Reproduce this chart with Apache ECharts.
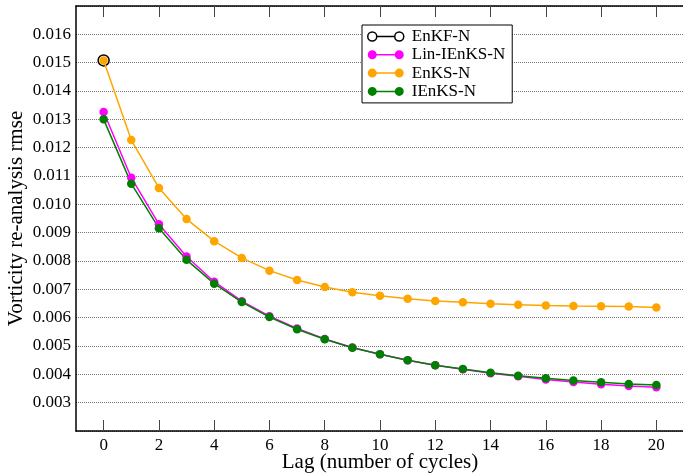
<!DOCTYPE html>
<html>
<head>
<meta charset="utf-8">
<script src="https://cdn.jsdelivr.net/npm/echarts@6/dist/echarts.min.js"></script>
<style>
  html, body { margin: 0; padding: 0; background: #fff; }
  #chart { width: 683px; height: 473px; }
</style>
</head>
<body>
<div id="chart"></div>
<script>
// ---- data ----
const lags = [0,1,2,3,4,5,6,7,8,9,10,11,12,13,14,15,16,17,18,19,20];
const enkfN = [0.01508];            // only at lag 0
const linIEnKSN = [0.01326,0.01094,0.00930,0.00816,0.00727,0.00658,0.00605,0.00562,0.00525,0.00495,0.00471,0.00450,0.00432,0.00418,0.00404,0.00393,0.00382,0.00373,0.00365,0.00359,0.00354];
const enKSN = [0.01508,0.01227,0.01058,0.00948,0.00870,0.00811,0.00766,0.00733,0.00708,0.00690,0.00677,0.00667,0.00659,0.00654,0.00649,0.00646,0.00643,0.00641,0.00640,0.00639,0.00636];
const iEnKSN = [0.01300,0.01073,0.00916,0.00804,0.00720,0.00655,0.00602,0.00559,0.00524,0.00494,0.00471,0.00450,0.00432,0.00419,0.00406,0.00395,0.00386,0.00378,0.00372,0.00366,0.00362];
const xTicks = [0,2,4,6,8,10,12,14,16,18,20];
const yTicks = [0.003,0.004,0.005,0.006,0.007,0.008,0.009,0.010,0.011,0.012,0.013,0.014,0.015,0.016];
const seriesNames = ['EnKF-N','Lin-IEnKS-N','EnKS-N','IEnKS-N'];

const pairs = arr => arr.map((v, i) => [lags[i], v]);
const FONT = 'Liberation Serif';

const iconFilled = 'path://M0,4.5A4.5,4.5,0,1,1,9,4.5A4.5,4.5,0,1,1,0,4.5Z M27,4.5A4.5,4.5,0,1,1,36,4.5A4.5,4.5,0,1,1,27,4.5Z M4.5,3.75L31.5,3.75L31.5,5.25L4.5,5.25Z';
const iconOpen = 'path://M0,4.5A4.5,4.5,0,1,1,9,4.5A4.5,4.5,0,1,1,0,4.5Z M27,4.5A4.5,4.5,0,1,1,36,4.5A4.5,4.5,0,1,1,27,4.5Z M9,4.5L27,4.5';

const chart = echarts.init(document.getElementById('chart'), null, {renderer: 'canvas'});

function lineSeries(name, data, color) {
  return {
    name, type: 'line', data: pairs(data),
    symbol: 'circle', symbolSize: 8.5,
    lineStyle: {color, width: 1.5},
    itemStyle: {color},
    animation: false
  };
}

chart.setOption({
  animation: false,
  backgroundColor: '#fff',
  grid: {left: 76, top: 6, width: 608, height: 425, containLabel: false, outerBoundsMode: 'none'},
  legend: {
    orient: 'vertical', left: 362, top: 25,
    padding: [3, 7, 3, 5], itemGap: 1.3,
    itemWidth: 36, itemHeight: 9,
    borderColor: '#000', borderWidth: 1, borderRadius: 0,
    backgroundColor: '#fff',
    textStyle: {fontFamily: FONT, fontSize: 17, color: '#000', padding: [0, 0, 0, 3]},
    data: [
      {name: seriesNames[0], icon: iconOpen, itemStyle: {color: 'rgba(0,0,0,0)', borderColor: '#000', borderWidth: 1.5}},
      {name: seriesNames[1], icon: iconFilled, itemStyle: {color: '#ff00ff', borderWidth: 0}},
      {name: seriesNames[2], icon: iconFilled, itemStyle: {color: '#ffa500', borderWidth: 0}},
      {name: seriesNames[3], icon: iconFilled, itemStyle: {color: '#008000', borderWidth: 0}}
    ]
  },
  xAxis: [{
    type: 'value', position: 'bottom', min: -1, max: 21,
    name: 'Lag (number of cycles)', nameLocation: 'middle', nameGap: 21, nameMoveOverlap: false,
    nameTextStyle: {fontFamily: FONT, fontSize: 21, color: '#000'},
    axisLine: {show: true, onZero: false, lineStyle: {color: '#000', width: 1.5}},
    axisTick: {show: true, inside: true, length: 11, customValues: xTicks, lineStyle: {color: '#444', width: 1}},
    axisLabel: {show: true, customValues: xTicks, margin: 6, fontFamily: FONT, fontSize: 17, color: '#000'},
    splitLine: {show: false}
  }, {
    type: 'value', position: 'top', min: -1, max: 21,
    axisLine: {show: true, onZero: false, lineStyle: {color: '#000', width: 1.5}},
    axisTick: {show: true, inside: true, length: 11, customValues: xTicks, lineStyle: {color: '#444', width: 1}},
    axisLabel: {show: false},
    splitLine: {show: false}
  }],
  yAxis: {
    type: 'value', min: 0.002, max: 0.017, interval: 0.001,
    name: 'Vorticity re-analysis rmse', nameLocation: 'middle', nameGap: 49, nameMoveOverlap: false,
    nameTextStyle: {fontFamily: FONT, fontSize: 21, color: '#000'},
    axisLine: {show: true, onZero: false, lineStyle: {color: '#000', width: 1.5}},
    axisTick: {show: false},
    axisLabel: {customValues: yTicks, margin: 5, fontFamily: FONT, fontSize: 17, color: '#000',
                formatter: v => v.toFixed(3)},
    splitLine: {show: true, lineStyle: {color: '#777', width: 1, type: [1, 1]}}
  },
  series: [
    {
      name: seriesNames[0], type: 'line', data: pairs(enkfN),
      symbol: 'circle', symbolSize: 11, z: 1,
      itemStyle: {color: 'rgba(0,0,0,0)', borderColor: '#000', borderWidth: 1.5},
      lineStyle: {color: '#000', width: 1.5}
    },
    lineSeries(seriesNames[1], linIEnKSN, '#ff00ff'),
    lineSeries(seriesNames[2], enKSN, '#ffa500'),
    lineSeries(seriesNames[3], iEnKSN, '#008000')
  ]
});
</script>
</body>
</html>
